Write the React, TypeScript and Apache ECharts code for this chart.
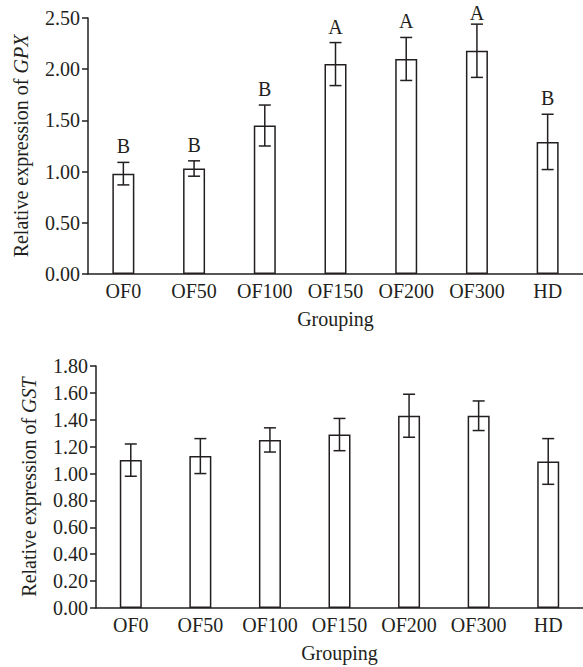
import React, { useEffect, useRef } from "react";
import * as echarts from "echarts";

const categories = ["OF0", "OF50", "OF100", "OF150", "OF200", "OF300", "HD"];
const gpxMean = [0.98, 1.03, 1.45, 2.05, 2.1, 2.18, 1.29];
const gpxErr = [0.11, 0.075, 0.2, 0.21, 0.21, 0.26, 0.27];
const gpxLetters = ["B", "B", "B", "A", "A", "A", "B"];
const gstMean = [1.1, 1.13, 1.25, 1.29, 1.43, 1.43, 1.09];
const gstErr = [0.12, 0.13, 0.09, 0.12, 0.16, 0.11, 0.17];
const gpxTicks = { min: 0, max: 2.5, interval: 0.5 };
const gstTicks = { min: 0, max: 1.8, interval: 0.2 };

const INK = "#231f20";
const FONT = "Liberation Serif";
const FS = 20;

function makeErrSeries(mean: number[], err: number[], letters: string[] | null, idx: number) {
  return {
    type: "custom",
    xAxisIndex: idx,
    yAxisIndex: idx,
    z: 10,
    data: mean.map((m, i) => [i, m, err[i]]),
    renderItem: (params: any, api: any) => {
      const x = api.value(0);
      const m = api.value(1);
      const e = api.value(2);
      const top = api.coord([x, m + e]);
      const bot = api.coord([x, m - e]);
      const hw = 6;
      const st = { stroke: INK, lineWidth: 1.5 };
      const children: any[] = [
        { type: "line", shape: { x1: top[0], y1: top[1], x2: bot[0], y2: bot[1] }, style: st },
        { type: "line", shape: { x1: top[0] - hw, y1: top[1], x2: top[0] + hw, y2: top[1] }, style: st },
        { type: "line", shape: { x1: bot[0] - hw, y1: bot[1], x2: bot[0] + hw, y2: bot[1] }, style: st },
      ];
      if (letters) {
        children.push({
          type: "text",
          style: {
            x: top[0],
            y: Math.max(top[1] - 16, 13),
            text: letters[params.dataIndex],
            fill: INK,
            font: `${FS}px "${FONT}"`,
            align: "center",
            verticalAlign: "middle",
          },
        });
      }
      return { type: "group", children };
    },
  };
}

function axisPair(idx: number, ticks: { min: number; max: number; interval: number }, gene: string) {
  const x = {
    type: "category",
    gridIndex: idx,
    data: categories,
    axisTick: { show: false },
    axisLine: { lineStyle: { color: INK, width: 1.5 } },
    axisLabel: { color: INK, fontSize: FS, fontFamily: FONT, margin: 7, interval: 0 },
    name: "Grouping",
    nameLocation: "middle",
    nameGap: 35,
    nameTextStyle: { color: INK, fontSize: FS, fontFamily: FONT },
  };
  const y = {
    type: "value",
    gridIndex: idx,
    min: ticks.min,
    max: ticks.max,
    interval: ticks.interval,
    splitLine: { show: false },
    axisLine: { show: true, lineStyle: { color: INK, width: 1.5 } },
    axisTick: { show: true, length: 6, lineStyle: { color: INK, width: 1.5 } },
    axisLabel: {
      color: INK,
      fontSize: FS,
      fontFamily: FONT,
      margin: 8,
      formatter: (v: number) => v.toFixed(2),
    },
    name: `Relative expression of {i|${gene}}`,
    nameLocation: "middle",
    nameRotate: 90,
    nameGap: 57,
    nameTextStyle: {
      color: INK,
      fontSize: FS,
      fontFamily: FONT,
      rich: { i: { fontStyle: "italic", fontSize: FS, fontFamily: FONT, color: INK } },
    },
  };
  return { x, y };
}

export default function App() {
  const ref = useRef<HTMLDivElement>(null);
  useEffect(() => {
    if (!ref.current) return;
    const chart = echarts.init(ref.current, null, { renderer: "svg" });
    const a0 = axisPair(0, gpxTicks, "GPX");
    const a1 = axisPair(1, gstTicks, "GST");
    const barStyle = { color: "#ffffff", borderColor: INK, borderWidth: 1.5 };
    chart.setOption({
      animation: false,
      backgroundColor: "#ffffff",
      grid: [
        { left: 88, top: 18, width: 497, height: 256 },
        { left: 96, top: 366, width: 497, height: 242 },
      ],
      xAxis: [a0.x, a1.x],
      yAxis: [a0.y, a1.y],
      series: [
        { type: "bar", xAxisIndex: 0, yAxisIndex: 0, data: gpxMean, barWidth: 22, itemStyle: barStyle },
        makeErrSeries(gpxMean, gpxErr, gpxLetters, 0),
        { type: "bar", xAxisIndex: 1, yAxisIndex: 1, data: gstMean, barWidth: 22, itemStyle: barStyle },
        makeErrSeries(gstMean, gstErr, null, 1),
      ],
    });
    return () => chart.dispose();
  }, []);
  return (
    <div
      ref={ref}
      style={{ position: "absolute", left: 0, top: 0, width: 583, height: 667 }}
    />
  );
}
